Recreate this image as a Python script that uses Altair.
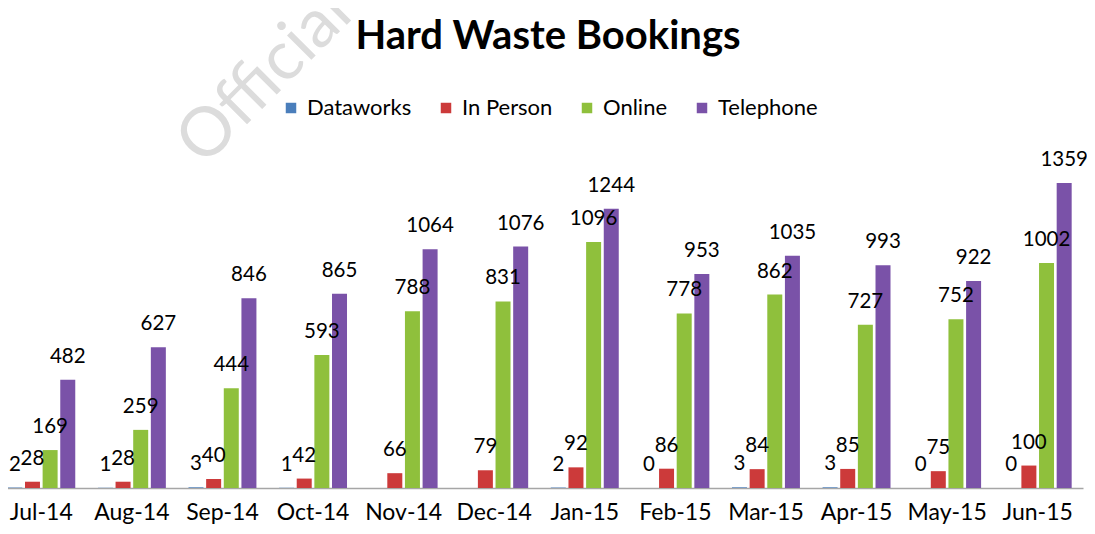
import altair as alt
import pandas as pd

months = ["Jul-14", "Aug-14", "Sep-14", "Oct-14", "Nov-14", "Dec-14",
          "Jan-15", "Feb-15", "Mar-15", "Apr-15", "May-15", "Jun-15"]
series = ["Dataworks", "In Person", "Online", "Telephone"]
dataworks = [2, 1, 3, 1, None, None, 2, 0, 3, 3, 0, 0]
in_person = [28, 28, 40, 42, 66, 79, 92, 86, 84, 85, 75, 100]
online = [169, 259, 444, 593, 788, 831, 1096, 778, 862, 727, 752, 1002]
telephone = [482, 627, 846, 865, 1064, 1076, 1244, 953, 1035, 993, 922, 1359]
colors = ["#4a7ebb", "#cc3a3a", "#8fc03c", "#7a52a8"]
title_text = ["Hard Waste Bookings"]
watermark_text = ["Official"]

rows = []
for s, vals in zip(series, [dataworks, in_person, online, telephone]):
    for m, v in zip(months, vals):
        if v is not None:
            rows.append({"Month": m, "Series": s, "Value": v})
df = pd.DataFrame(rows)

FONT = "Lato"
YMAX = 1907

x = alt.X("Month:N", sort=months, title=None,
          scale=alt.Scale(paddingInner=0.25, paddingOuter=0.125),
          axis=alt.Axis(labelFontSize=23, labelFont=FONT, labelColor="#000000",
                        labelPadding=13, ticks=False, domainColor="#a6a6a6",
                        domainWidth=1.5, labelAngle=0))
xo = alt.XOffset("Series:N", sort=series,
                 scale=alt.Scale(paddingInner=0.15, paddingOuter=0))
y = alt.Y("Value:Q", scale=alt.Scale(domain=[0, YMAX]), axis=None)

bars = alt.Chart(df).mark_bar().encode(
    x=x, xOffset=xo, y=y,
    color=alt.Color("Series:N", sort=series,
                    scale=alt.Scale(domain=series, range=colors),
                    legend=alt.Legend(title=None, orient="none", direction="horizontal",
                                      columns=4, legendX=284, legendY=37,
                                      labelFontSize=22, labelFont=FONT,
                                      labelColor="#000000", symbolType="square",
                                      symbolSize=110, symbolStrokeWidth=0,
                                      labelOffset=5, columnPadding=23)),
)

labels = alt.Chart(df).mark_text(baseline="bottom", dy=-13, fontSize=20.5,
                                  font=FONT, color="#000000").encode(
    x=x, xOffset=xo, y=y, text="Value:Q")

wm = alt.Chart(pd.DataFrame({"t": watermark_text})).mark_text(
    angle=315, fontSize=68, font=FONT, color="#dcdcdc", align="center",
    baseline="middle").encode(x=alt.value(269), y=alt.value(18), text="t:N")

title = alt.Chart(pd.DataFrame({"t": title_text})).mark_text(
    fontSize=40, font=FONT, fontWeight="bold", color="#000000", align="center",
    baseline="alphabetic").encode(x=alt.value(552), y=alt.value(-11), text="t:N")

chart = alt.layer(wm, title, bars, labels).properties(
    width=1087, height=428,
    autosize=alt.AutoSizeParams(type="none"),
    padding={"left": -12, "top": 52, "right": 4, "bottom": 38},
).configure_view(stroke=None)

chart.save("out.html", embed_options={"renderer": "svg", "actions": False})
